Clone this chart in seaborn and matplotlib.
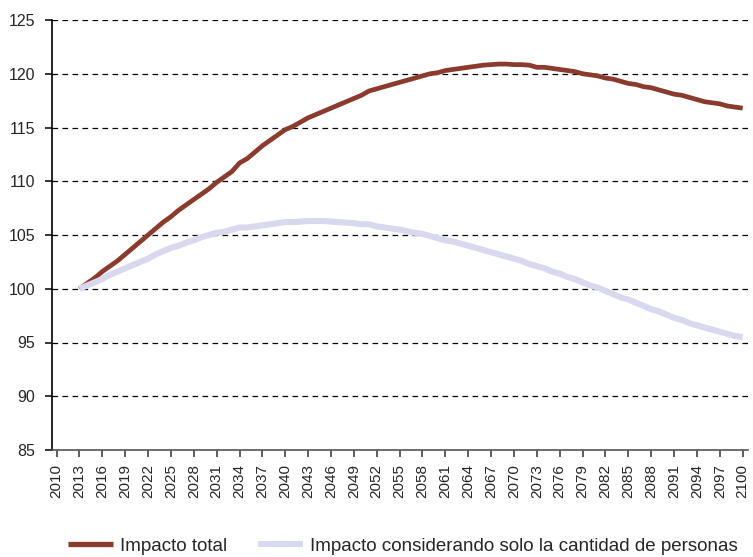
import numpy as np
import pandas as pd
import seaborn as sns
from matplotlib import pyplot as plt
from matplotlib.lines import Line2D

# annual series, 2013-2100 (index, 2013 = 100)
years = list(range(2013, 2101))

impacto_total = [
    100.0, 100.5, 101.0, 101.6, 102.1, 102.6, 103.2, 103.8, 104.4, 105.0,
    105.6, 106.2, 106.7, 107.3, 107.8, 108.3, 108.8, 109.3, 109.9, 110.4,
    110.9, 111.7, 112.1, 112.7, 113.3, 113.8, 114.3, 114.8, 115.1, 115.5,
    115.9, 116.2, 116.5, 116.8, 117.1, 117.4, 117.7, 118.0, 118.4, 118.6,
    118.8, 119.0, 119.2, 119.4, 119.6, 119.8, 120.0, 120.1, 120.3, 120.4,
    120.5, 120.6, 120.7, 120.8, 120.85, 120.9, 120.9, 120.85, 120.85, 120.8,
    120.6, 120.6, 120.5, 120.4, 120.3, 120.2, 120.0, 119.9, 119.8, 119.6,
    119.5, 119.3, 119.1, 119.0, 118.8, 118.7, 118.5, 118.3, 118.1, 118.0,
    117.8, 117.6, 117.4, 117.3, 117.2, 117.0, 116.9, 116.8,
]

impacto_personas = [
    100.0, 100.3, 100.6, 100.9, 101.3, 101.6, 101.9, 102.2, 102.5, 102.8,
    103.2, 103.5, 103.8, 104.0, 104.3, 104.5, 104.8, 105.0, 105.2, 105.3,
    105.5, 105.7, 105.7, 105.8, 105.9, 106.0, 106.1, 106.2, 106.2, 106.25,
    106.3, 106.3, 106.3, 106.25, 106.2, 106.15, 106.1, 106.0, 106.0, 105.8,
    105.7, 105.6, 105.5, 105.35, 105.2, 105.1, 104.9, 104.7, 104.5, 104.4,
    104.2, 104.0, 103.8, 103.6, 103.4, 103.2, 103.0, 102.8, 102.6, 102.3,
    102.1, 101.9, 101.6, 101.4, 101.1, 100.9, 100.6, 100.3, 100.1, 99.8,
    99.5, 99.2, 99.0, 98.7, 98.4, 98.1, 97.9, 97.6, 97.3, 97.1,
    96.8, 96.6, 96.4, 96.2, 96.0, 95.8, 95.6, 95.5,
]

labels = ["Impacto total", "Impacto considerando solo la cantidad de personas"]
colors = ["#8B3B2E", "#D8D8EE"]
widths = [3.4, 4.4]

x_ticks = list(range(2010, 2101, 3))
y_ticks = list(range(85, 126, 5))

df = pd.DataFrame({
    "year": years * 2,
    "value": impacto_total + impacto_personas,
    "serie": [labels[0]] * len(years) + [labels[1]] * len(years),
})

sns.set_style("white")
plt.rcParams["font.family"] = ["Liberation Sans", "DejaVu Sans"]

fig = plt.figure(figsize=(7.53, 5.57), dpi=100)
ax = fig.add_axes([52 / 753, 1 - 450 / 557, 696 / 753, 430 / 557])

# horizontal dashed grid
for yv in y_ticks[1:]:
    ax.axhline(yv, color="black", lw=0.9, dashes=(4.5, 3.5), zorder=0)

for lab, col, lw in zip(labels, colors, widths):
    sns.lineplot(data=df[df.serie == lab], x="year", y="value", color=col,
                 lw=lw, ax=ax, legend=False, solid_capstyle="butt")

ax.set_xlim(2009.4, 2100.7)
ax.set_ylim(85, 125)
ax.set_xticks(x_ticks)
ax.set_xticklabels([str(v) for v in x_ticks], rotation=90, fontsize=11)
ax.set_yticks(y_ticks)
ax.set_yticklabels([str(v) for v in y_ticks], fontsize=11.5)
ax.set_xlabel("")
ax.set_ylabel("")

for s in ["top", "right"]:
    ax.spines[s].set_visible(False)
ax.spines["left"].set_color("black")
ax.spines["left"].set_linewidth(1.2)
ax.spines["bottom"].set_color("#555555")
ax.spines["bottom"].set_linewidth(1.2)
ax.tick_params(axis="x", bottom=True, length=5, width=1.1, color="#333333", pad=5)
ax.tick_params(axis="y", left=True, length=5, width=1.1, color="black", pad=7)

handles = [Line2D([0], [0], color=colors[0], lw=3.8, solid_capstyle="butt"),
           Line2D([0], [0], color=colors[1], lw=4.4, solid_capstyle="butt")]
fig.legend(handles, labels, loc="center", bbox_to_anchor=(0.535, 11 / 557),
           ncol=2, frameon=False, fontsize=13.5, handlelength=2.4,
           handletextpad=0.4, columnspacing=1.6)

fig.savefig("out.png", dpi=100)
